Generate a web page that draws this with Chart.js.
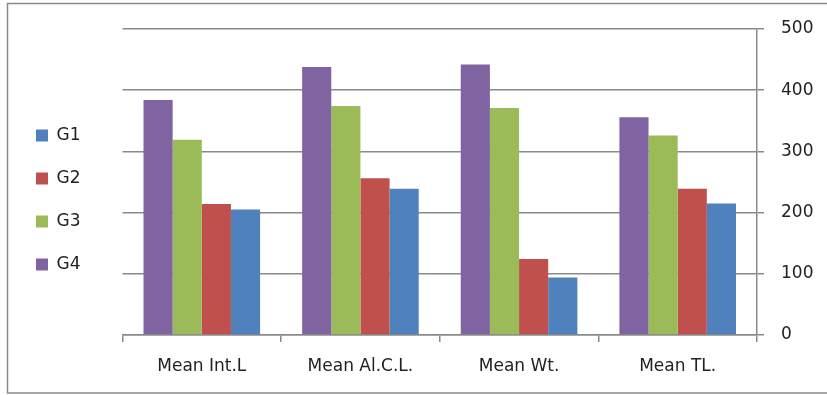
<!DOCTYPE html>
<html>
<head>
<meta charset="utf-8">
<script src="https://cdn.jsdelivr.net/npm/chart.js@4/dist/chart.umd.min.js"></script>
<style>
html,body{margin:0;padding:0;background:#fff;}
#wrap{width:827px;height:395px;position:relative;}
</style>
</head>
<body>
<div id="wrap"><canvas id="c" width="827" height="395"></canvas></div>
<script>
const categories = ["Mean Int.L", "Mean Al.C.L.", "Mean Wt.", "Mean TL."];
const seriesNames = ["G4", "G3", "G2", "G1"];
const g4 = [384, 438, 442, 356];
const g3 = [319, 374, 371, 326];
const g2 = [214, 256, 124, 239];
const g1 = [205, 239, 94, 215];
const yTicks = [0, 100, 200, 300, 400, 500];

const colors = ["#8064A2", "#9BBB59", "#C0504D", "#4F81BD"];
const seriesValues = [g4, g3, g2, g1];
const FONT = "'DejaVu Sans', sans-serif";
const GRID = "#8a8a8a";

const frame = {
  id: "frame",
  beforeDraw(chart) {
    const ctx = chart.ctx;
    ctx.save();
    ctx.fillStyle = "#fff";
    ctx.fillRect(0, 0, chart.width, chart.height);
    ctx.strokeStyle = "#8a8a8a";
    ctx.lineWidth = 1.5;
    ctx.strokeRect(7.5, 3.5, 900, 389.5);
    ctx.restore();
  }
};

new Chart(document.getElementById("c"), {
  type: "bar",
  data: {
    labels: categories,
    datasets: seriesNames.map((n, i) => ({
      label: n,
      data: seriesValues[i],
      backgroundColor: colors[i],
      borderWidth: 0,
      categoryPercentage: 0.735,
      barPercentage: 1.0
    }))
  },
  options: {
    responsive: false,
    animation: false,
    devicePixelRatio: 1,
    layout: { padding: { left: 10, right: 0, top: 29, bottom: 24 } },
    plugins: {
      legend: {
        position: "left",
        reverse: true,
        labels: {
          boxWidth: 12,
          boxHeight: 12,
          padding: 26,
          color: "#222",
          font: { family: FONT, size: 17 }
        }
      },
      tooltip: { enabled: false }
    },
    scales: {
      x: {
        offset: true,
        grid: {
          offset: true,
          drawOnChartArea: false,
          drawTicks: true,
          tickLength: 7,
          color: GRID,
          lineWidth: 1.5
        },
        border: { color: GRID, width: 1.5 },
        ticks: { color: "#222", font: { family: FONT, size: 17 }, padding: 14 },
        afterFit(s) { s.height = 36; }
      },
      y: {
        position: "right",
        min: 0,
        max: 500,
        afterBuildTicks(s) { s.ticks = yTicks.map(v => ({ value: v })); },
        grid: { color: GRID, lineWidth: 1.5, tickLength: 7 },
        border: { color: GRID, width: 1.5 },
        ticks: { color: "#222", font: { family: FONT, size: 17 }, padding: 17 },
        afterFit(s) { s.width = 70; s.paddingTop = 0; s.paddingBottom = 0; }
      },
      spacer: {
        type: "linear",
        position: "left",
        display: true,
        grid: { display: false },
        border: { display: false },
        ticks: { display: false },
        afterFit(s) { s.width = 32; }
      }
    }
  },
  plugins: [frame]
});
</script>
</body>
</html>
